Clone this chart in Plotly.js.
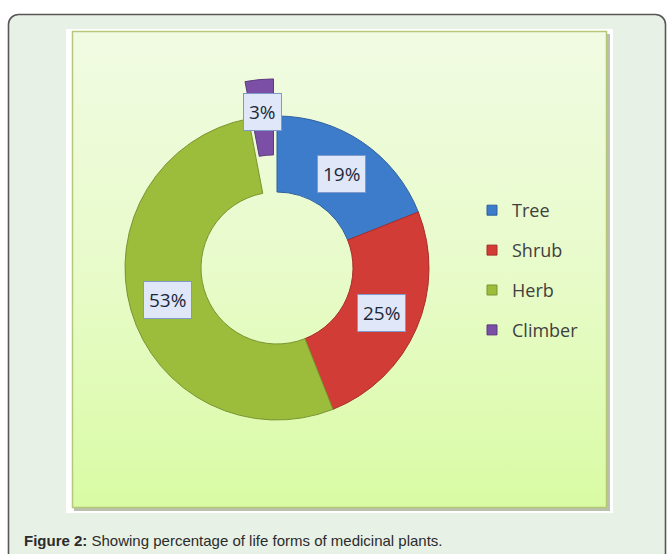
<!DOCTYPE html>
<html>
<head>
<meta charset="utf-8">
<script src="https://cdn.plot.ly/plotly-3.0.1.min.js"></script>
<style>html,body{margin:0;padding:0;background:#fff;}#chart{width:667px;height:554px;}</style>
</head>
<body>
<div id="chart"></div>
<script>
// ---- data ----
const categories = ['Tree', 'Shrub', 'Herb', 'Climber'];
const values = [19, 25, 53, 3];
const percentLabels = ['19%', '25%', '53%', '3%'];
const captionBold = 'Figure 2:';
const captionText = 'Showing percentage of life forms of medicinal plants.';

// ---- styles ----
const sliceColors = ['#3d7cca', '#d13c37', '#9cbc3c', '#7b4fa5'];
const sliceLines = ['#2f5f9e', '#a82d2a', '#7a9530', '#5c3a80'];
const pulls = [0, 0, 0, 0.245];

const W = 667, H = 554;
const cx = 277, cy = 268, R = 152, hole = 0.5;
const maxPull = Math.max(...pulls);
const half = R * (1 + maxPull);

const bgSvg = `<svg xmlns="http://www.w3.org/2000/svg" width="${W}" height="${H}" viewBox="0 0 ${W} ${H}">
<defs>
<linearGradient id="g" x1="0" y1="0" x2="0" y2="1">
<stop offset="0" stop-color="#f1fbe3"/>
<stop offset="0.5" stop-color="#e8fbca"/>
<stop offset="1" stop-color="#d9fba4"/>
</linearGradient>
</defs>
<rect x="0" y="0" width="${W}" height="${H}" fill="#ffffff"/>
<rect x="8.5" y="14.5" width="657" height="600" rx="10" ry="10" fill="#e8f1e6" stroke="#575757" stroke-width="1.6"/>
<rect x="66" y="29" width="547" height="484" fill="#ffffff"/>
<rect x="74" y="34" width="536" height="477" fill="#b9c0ad"/>
<rect x="72.5" y="31.5" width="534" height="476" fill="url(#g)" stroke="#b6c77c" stroke-width="1.5"/>
</svg>`;

const total = values.reduce((a, b) => a + b, 0);

const traces = [{
  type: 'pie',
  labels: categories,
  values: values,
  sort: false,
  direction: 'clockwise',
  rotation: 0,
  hole: hole,
  pull: pulls,
  textinfo: 'none',
  textposition: 'none',
  showlegend: false,
  hoverinfo: 'label+percent',
  marker: { colors: sliceColors, line: { color: sliceLines, width: 1 } },
  domain: {
    x: [(cx - half) / W, (cx + half) / W],
    y: [1 - (cy + half) / H, 1 - (cy - half) / H]
  }
}];
// legend entries (one per category)
categories.forEach((c, i) => {
  traces.push({
    type: 'scatter', mode: 'markers', x: [null], y: [null], name: c,
    legendgroup: 'g' + i, hoverinfo: 'skip',
    marker: { symbol: 'square', size: 10, color: sliceColors[i], line: { color: sliceLines[i], width: 1 } }
  });
});

// percent label annotations, positioned from the data
const annotations = [];
let cum = 0;
values.forEach((v, i) => {
  const mid = (cum + v / 2) / total;
  cum += v;
  const th = 2 * Math.PI * mid;
  const r = R * (1 + hole) / 2 + pulls[i] * R * 1.15;
  const px = cx + r * Math.sin(th);
  const py = cy - r * Math.cos(th);
  annotations.push({
    xref: 'paper', yref: 'paper', x: px / W, y: 1 - py / H,
    xanchor: 'center', yanchor: 'middle', showarrow: false,
    text: percentLabels[i],
    font: { family: 'Open Sans', size: 19, color: '#1c2838' },
    bgcolor: '#dfe7f8', bordercolor: '#7f99cc', borderwidth: 1, borderpad: 5
  });
});
annotations.push({
  xref: 'paper', yref: 'paper', x: 22 / W, y: 1 - 540 / H,
  xanchor: 'left', yanchor: 'middle', showarrow: false,
  text: '<b>' + captionBold + '</b> ' + captionText,
  font: { family: 'Liberation Sans, Arial', size: 15, color: '#2b2b2b' }
});

const layout = {
  width: W, height: H,
  margin: { l: 0, r: 0, t: 0, b: 0 },
  paper_bgcolor: '#ffffff', plot_bgcolor: 'rgba(0,0,0,0)',
  xaxis: { visible: false }, yaxis: { visible: false },
  showlegend: true,
  legend: {
    x: 472 / W, xanchor: 'left', y: 1 - 192 / H, yanchor: 'top',
    bgcolor: 'rgba(0,0,0,0)', tracegroupgap: 13.5,
    font: { family: 'Open Sans', size: 18, color: '#404040' }
  },
  images: [{
    source: 'data:image/svg+xml;charset=utf-8,' + encodeURIComponent(bgSvg),
    xref: 'paper', yref: 'paper', x: 0, y: 1, sizex: 1, sizey: 1,
    xanchor: 'left', yanchor: 'top', sizing: 'stretch', layer: 'below'
  }],
  annotations: annotations
};

Plotly.newPlot('chart', traces, layout, { displayModeBar: false, staticPlot: true });
</script>
</body>
</html>
